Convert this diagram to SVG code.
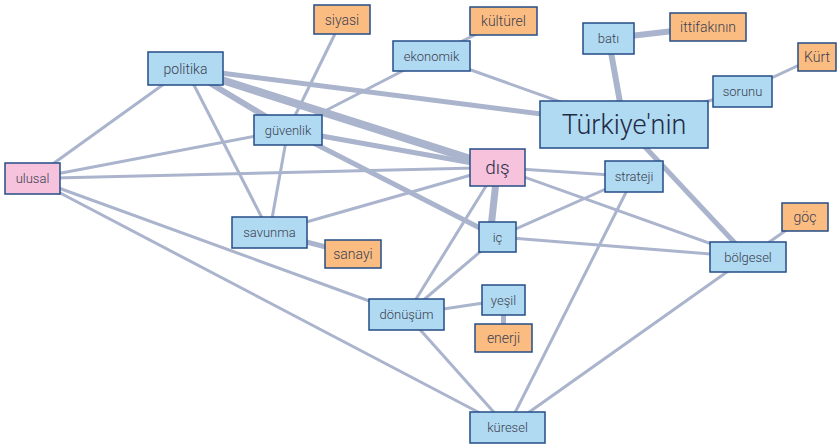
<svg xmlns="http://www.w3.org/2000/svg" width="838" height="446" viewBox="0 0 838 446">
<style>
.e{stroke:#aab4cc;fill:none;stroke-linecap:butt}
.n rect{stroke:#244c86;stroke-width:1.5}
.b rect{fill:#b0daf1}
.o rect{fill:#fbbc82}
.p rect{fill:#f6c2dc}
text{font-family:Roboto,"Liberation Sans",sans-serif;font-weight:300;fill:#3a4050;text-anchor:middle;dominant-baseline:central;font-size:13px}
.o text{font-size:14px}
</style>
<rect width="838" height="446" fill="#ffffff"/>
<g id="edges">
<line class="e" stroke-width="3" x1="185.5" y1="68.5" x2="32.5" y2="178.5"/>
<line class="e" stroke-width="3" x1="185.5" y1="68.5" x2="269.5" y2="232.5"/>
<line class="e" stroke-width="6" x1="185.5" y1="68.5" x2="288" y2="130"/>
<line class="e" stroke-width="8" x1="185.5" y1="68.5" x2="497.5" y2="167.5"/>
<line class="e" stroke-width="5" x1="185.5" y1="68.5" x2="624" y2="124.5"/>
<line class="e" stroke-width="3" x1="342" y1="19.5" x2="288" y2="130"/>
<line class="e" stroke-width="3" x1="431.5" y1="56" x2="288" y2="130"/>
<line class="e" stroke-width="3" x1="431.5" y1="56" x2="503.5" y2="21"/>
<line class="e" stroke-width="3" x1="431.5" y1="56" x2="624" y2="124.5"/>
<line class="e" stroke-width="3" x1="288" y1="130" x2="32.5" y2="178.5"/>
<line class="e" stroke-width="3" x1="32.5" y1="178.5" x2="497.5" y2="167.5"/>
<line class="e" stroke-width="3" x1="32.5" y1="178.5" x2="406.5" y2="314.5"/>
<line class="e" stroke-width="3" x1="32.5" y1="178.5" x2="507.5" y2="427.5"/>
<line class="e" stroke-width="3" x1="288" y1="130" x2="269.5" y2="232.5"/>
<line class="e" stroke-width="5" x1="288" y1="130" x2="497.5" y2="167.5"/>
<line class="e" stroke-width="5" x1="288" y1="130" x2="497.5" y2="237"/>
<line class="e" stroke-width="3" x1="269.5" y1="232.5" x2="497.5" y2="167.5"/>
<line class="e" stroke-width="5" x1="269.5" y1="232.5" x2="353" y2="254"/>
<line class="e" stroke-width="7" x1="497.5" y1="167.5" x2="490" y2="237"/>
<line class="e" stroke-width="3" x1="497.5" y1="167.5" x2="406.5" y2="314.5"/>
<line class="e" stroke-width="3" x1="497.5" y1="167.5" x2="634" y2="176.5"/>
<line class="e" stroke-width="3" x1="497.5" y1="167.5" x2="748" y2="257"/>
<line class="e" stroke-width="3" x1="497.5" y1="237" x2="634" y2="176.5"/>
<line class="e" stroke-width="3" x1="497.5" y1="237" x2="748" y2="257"/>
<line class="e" stroke-width="3" x1="497.5" y1="237" x2="406.5" y2="314.5"/>
<line class="e" stroke-width="3" x1="634" y1="176.5" x2="507.5" y2="427.5"/>
<line class="e" stroke-width="6" x1="624" y1="124.5" x2="608.5" y2="38.5"/>
<line class="e" stroke-width="3" x1="624" y1="124.5" x2="742.5" y2="91.5"/>
<line class="e" stroke-width="5" x1="624" y1="124.5" x2="748" y2="257"/>
<line class="e" stroke-width="6" x1="608.5" y1="38.5" x2="708" y2="27"/>
<line class="e" stroke-width="3" x1="742.5" y1="91.5" x2="816.5" y2="57"/>
<line class="e" stroke-width="3" x1="748" y1="257" x2="805" y2="217"/>
<line class="e" stroke-width="3" x1="748" y1="257" x2="507.5" y2="427.5"/>
<line class="e" stroke-width="3" x1="406.5" y1="314.5" x2="503.5" y2="300"/>
<line class="e" stroke-width="5" x1="503.5" y1="300" x2="503.5" y2="338"/>
<line class="e" stroke-width="3" x1="406.5" y1="314.5" x2="507.5" y2="427.5"/>
</g>
<g id="n-siyasi" class="n o"><rect x="314" y="5" width="56" height="29"/><text x="342" y="19.5">siyasi</text></g>
<g id="n-kulturel" class="n o"><rect x="470" y="7" width="67" height="28"/><text x="503.5" y="21">kültürel</text></g>
<g id="n-ittifakinin" class="n o"><rect x="670" y="13" width="76" height="28"/><text x="708" y="27">ittifakının</text></g>
<g id="n-kurt" class="n o"><rect x="798" y="43" width="38" height="28"/><text x="817" y="57">Kürt</text></g>
<g id="n-goc" class="n o"><rect x="782" y="203" width="46" height="28"/><text x="805" y="217">göç</text></g>
<g id="n-sanayi" class="n o"><rect x="325" y="240" width="56" height="28"/><text x="353" y="254">sanayi</text></g>
<g id="n-enerji" class="n o"><rect x="475" y="324" width="57" height="28"/><text x="503.5" y="338">enerji</text></g>
<g id="n-politika" class="n b"><rect x="148" y="52" width="75" height="33"/><text x="185.5" y="68.5" style="font-size:14px">politika</text></g>
<g id="n-ekonomik" class="n b"><rect x="393" y="41" width="77" height="30"/><text x="431.5" y="56">ekonomik</text></g>
<g id="n-bati" class="n b"><rect x="583" y="23" width="51" height="31"/><text x="608.5" y="38.5">batı</text></g>
<g id="n-sorunu" class="n b"><rect x="713" y="76" width="59" height="31"/><text x="742.5" y="91.5">sorunu</text></g>
<g id="n-guvenlik" class="n b"><rect x="254" y="115" width="68" height="30"/><text x="288" y="130">güvenlik</text></g>
<g id="n-turkiyenin" class="n b"><rect x="540" y="101" width="168" height="47"/><text x="624" y="124.5" style="font-size:27px;fill:#1f2c48">Türkiye'nin</text></g>
<g id="n-strateji" class="n b"><rect x="605" y="161" width="58" height="31"/><text x="634" y="176.5">strateji</text></g>
<g id="n-ic" class="n b"><rect x="479" y="222" width="37" height="30"/><text x="497.5" y="237">iç</text></g>
<g id="n-bolgesel" class="n b"><rect x="710" y="242" width="76" height="30"/><text x="748" y="257">bölgesel</text></g>
<g id="n-savunma" class="n b"><rect x="232" y="217" width="75" height="31"/><text x="269.5" y="232.5">savunma</text></g>
<g id="n-donusum" class="n b"><rect x="369" y="299" width="75" height="31"/><text x="406.5" y="314.5">dönüşüm</text></g>
<g id="n-yesil" class="n b"><rect x="482" y="285" width="43" height="30"/><text x="503.5" y="300">yeşil</text></g>
<g id="n-kuresel" class="n b"><rect x="470" y="412" width="75" height="31"/><text x="507.5" y="427.5">küresel</text></g>
<g id="n-ulusal" class="n p"><rect x="5" y="163" width="55" height="31"/><text x="32.5" y="178.5">ulusal</text></g>
<g id="n-dis" class="n p"><rect x="470" y="149" width="55" height="37"/><text x="497.5" y="167.5" style="font-size:19px;fill:#2a2f4a">dış</text></g>
</svg>
